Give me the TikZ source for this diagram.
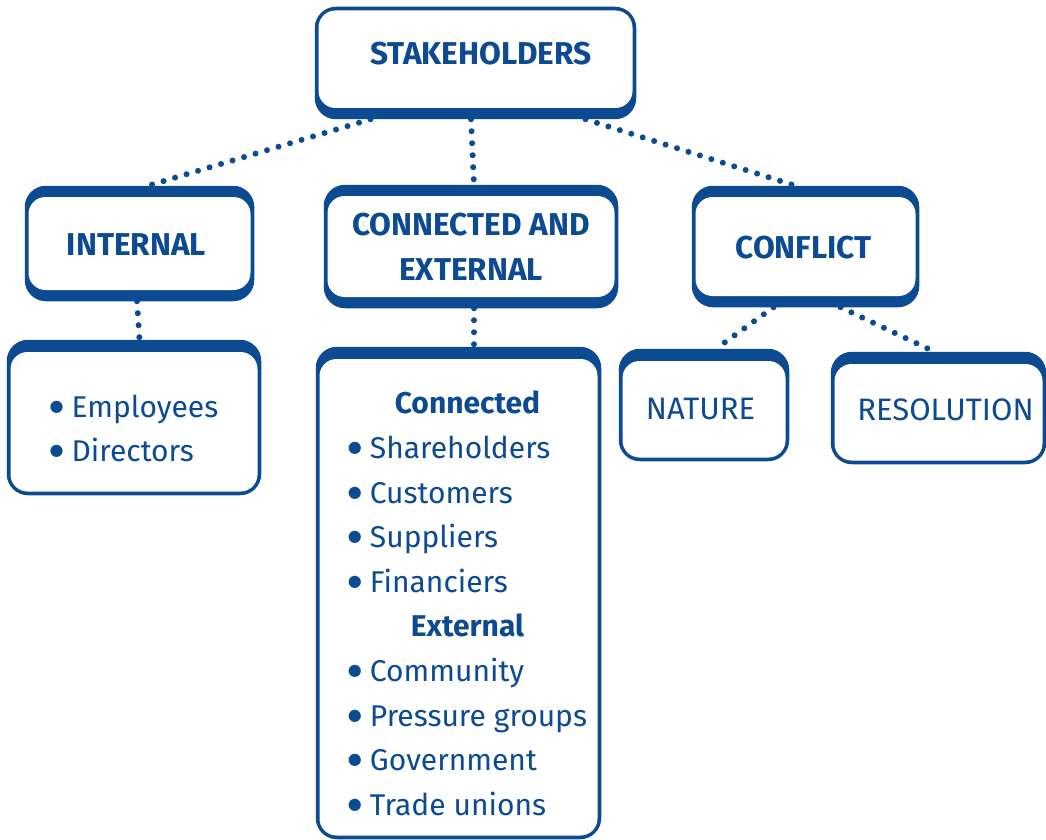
\documentclass[tikz,border=0pt]{standalone}
\usepackage{fontspec}
\setmainfont{Fira Sans}
\newfontfamily\symfont{DejaVu Sans}
\usepackage{tikz}
\definecolor{myblue}{RGB}{12,74,145}
\newcommand{\blt}{\makebox[22pt][l]{\raisebox{6pt}{\symfont\fontsize{16}{16}\selectfont ●}}}

\begin{document}
\begin{tikzpicture}[x=1pt,y=-1pt,
  box/.style={draw=myblue,fill=myblue,line width=2.5pt,rounded corners=20pt,inner sep=0pt},
  band/.style 2 args={path picture={\fill[white,rounded corners=17pt]
      ([xshift=2.5pt,yshift=-#1]path picture bounding box.north west) rectangle
      ([xshift=-2.5pt,yshift=#2]path picture bounding box.south east);}},
  hd/.style={text=myblue,font=\fontsize{31.6}{45}\selectfont\bfseries,align=center},
  txt/.style={text=myblue,font=\fontsize{30}{44.6}\selectfont},
  dots/.style={myblue,line width=6pt,line cap=round,dash pattern=on 0pt off 12pt}]
  \useasboundingbox (0,0) rectangle (1046,840);

  % top level
  \node[box,band={2.5pt}{10pt},minimum width=319pt,minimum height=110pt,
    label={[hd,xshift=5.5pt,yshift=9pt]center:STAKEHOLDERS}] (stake) at (475.5,63) {};

  % second row
  \node[box,band={10pt}{10pt},minimum width=227pt,minimum height=113pt,
    label={[hd,xshift=-3pt,yshift=-1pt]center:INTERNAL}] (internal) at (139.5,243.5) {};
  \node[box,band={10pt}{10pt},minimum width=292pt,minimum height=121pt,
    label={[hd]center:{CONNECTED AND\\EXTERNAL}}] (conn) at (471,246.5) {};
  \node[box,band={10pt}{10pt},minimum width=225pt,minimum height=119pt,
    label={[hd,xshift=-2pt,yshift=-1pt]center:CONFLICT}] (conflict) at (805.5,246.5) {};

  % third row
  \node[box,band={11pt}{2.5pt},minimum width=252pt,minimum height=153pt,
    label={[txt,yshift=-13pt]center:{\begin{tabular}{@{}l@{}}
      \blt Employees\\
      \blt Directors
    \end{tabular}}}] (emp) at (134,417.5) {};
  \node[box,band={11pt}{2.5pt},minimum width=283pt,minimum height=490pt,
    label={[txt,xshift=9pt,yshift=-12.6pt]center:{\begin{tabular}{@{}l@{}}
      \multicolumn{1}{c}{\bfseries Connected}\\
      \blt Shareholders\\
      \blt Customers\\
      \blt Suppliers\\
      \blt Financiers\\
      \multicolumn{1}{c}{\bfseries External}\\
      \blt Community\\
      \blt Pressure groups\\
      \blt Government\\
      \blt Trade unions
    \end{tabular}}}] (list) at (458.5,593) {};
  \node[box,band={11pt}{2.5pt},minimum width=168pt,minimum height=110pt,
    label={[txt,font=\fontsize{31}{40}\selectfont,xshift=-3.5pt,yshift=-4.5pt]center:NATURE}] (nature) at (704,405) {};
  \node[box,band={11pt}{2.5pt},minimum width=213pt,minimum height=110pt,
    label={[txt,font=\fontsize{31}{40}\selectfont,xshift=7pt,yshift=-1.5pt]center:RESOLUTION}] (resol) at (938.5,408) {};

  % dotted links
  \draw[dots] ([xshift=-105pt]stake.south) -- ([xshift=8.5pt]internal.north);
  \draw[dots] (conn.north |- stake.south) -- ([xshift=3pt]conn.north);
  \draw[dots] ([xshift=110pt]stake.south) -- ([xshift=-10pt]conflict.north);
  \draw[dots] ([xshift=-2.5pt]internal.south) -- (emp.north -| internal.south);
  \draw[dots] ([xshift=3pt]conn.south) -- ([xshift=15.5pt]list.north);
  \draw[dots] ([xshift=-32pt]conflict.south) -- ([xshift=12pt]nature.north);
  \draw[dots] ([xshift=35pt]conflict.south) -- ([xshift=-4pt]resol.north);
\end{tikzpicture}
\end{document}
